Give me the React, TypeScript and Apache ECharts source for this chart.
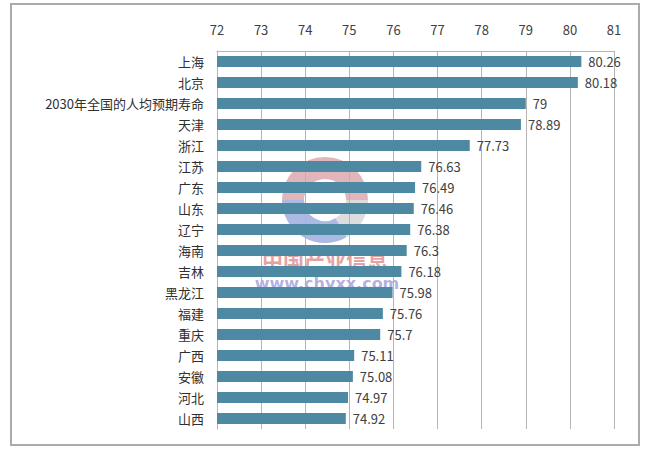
import React, { useEffect, useRef } from "react";
import * as echarts from "echarts";

const categories = [
  "上海", "北京", "2030年全国的人均预期寿命", "天津", "浙江", "江苏", "广东", "山东", "辽宁",
  "海南", "吉林", "黑龙江", "福建", "重庆", "广西", "安徽", "河北", "山西",
];
const values = [
  80.26, 80.18, 79, 78.89, 77.73, 76.63, 76.49, 76.46, 76.38,
  76.3, 76.18, 75.98, 75.76, 75.7, 75.11, 75.08, 74.97, 74.92,
];
const axisMin = 72;
const axisMax = 81;
const axisStep = 1;

export default function App() {
  const ref = useRef<HTMLDivElement>(null);
  useEffect(() => {
    if (!ref.current) return;
    const chart = echarts.init(ref.current, null, { renderer: "svg" });
    const font = "'Noto Sans CJK SC', 'Noto Sans', sans-serif";
    chart.setOption({
      animation: false,
      backgroundColor: "#ffffff",
      textStyle: { fontFamily: font },
      grid: { left: 217, right: 36, top: 51, bottom: 21, containLabel: false },
      xAxis: {
        type: "value",
        position: "top",
        min: axisMin,
        max: axisMax,
        interval: axisStep,
        axisLine: { show: true, lineStyle: { color: "#b4b4b4", width: 1 } },
        axisTick: { show: false },
        axisLabel: { color: "#404040", fontSize: 13, margin: 15, fontFamily: font },
        splitLine: { show: true, lineStyle: { color: "#b4b4b4", width: 1 } },
      },
      yAxis: {
        type: "category",
        inverse: true,
        data: categories,
        axisLine: { show: true, lineStyle: { color: "#b4b4b4", width: 1 } },
        axisTick: { show: false },
        axisLabel: { color: "#303030", fontSize: 13, margin: 13, fontFamily: font },
      },
      series: [
        {
          type: "bar",
          data: values,
          barWidth: 11,
          itemStyle: { color: "#4d89a2" },
          label: {
            show: true,
            position: "right",
            distance: 7,
            color: "#404040",
            fontSize: 13,
            fontFamily: font,
          },
        },
      ],
      graphic: [
        {
          type: "rect",
          shape: { x: 11, y: 4, width: 628, height: 441 },
          style: { fill: "none", stroke: "#ababab", lineWidth: 2 },
          silent: true,
        },
        {
          type: "group",
          silent: true,
          z: 100,
          children: [
            {
              type: "arc",
              shape: { cx: 325, cy: 200, r: 32, startAngle: Math.PI, endAngle: Math.PI * 2, clockwise: true },
              style: { stroke: "rgba(190,90,105,0.45)", lineWidth: 22, fill: "none" },
            },
            {
              type: "arc",
              shape: { cx: 325, cy: 200, r: 32, startAngle: Math.PI / 3, endAngle: Math.PI, clockwise: true },
              style: { stroke: "rgba(70,100,190,0.45)", lineWidth: 22, fill: "none" },
            },
            {
              type: "arc",
              shape: { cx: 325, cy: 200, r: 32, startAngle: 0, endAngle: Math.PI / 3, clockwise: true },
              style: { stroke: "rgba(170,170,175,0.4)", lineWidth: 22, fill: "none" },
            },
            {
              type: "text",
              x: 325,
              y: 259,
              style: {
                text: "中国产业信息",
                fill: "rgba(205,70,70,0.5)",
                font: "bold 21px 'Noto Sans CJK SC'",
                align: "center",
                verticalAlign: "middle",
              },
            },
            {
              type: "text",
              x: 327,
              y: 283,
              style: {
                text: "www.chyxx.com",
                fill: "rgba(100,100,200,0.5)",
                font: "bold 16px 'DejaVu Sans'",
                align: "center",
                verticalAlign: "middle",
              },
            },
          ],
        },
      ],
    });
    return () => chart.dispose();
  }, []);
  return (
    <div
      ref={ref}
      style={{ position: "absolute", left: 0, top: 0, width: 650, height: 450 }}
    />
  );
}
